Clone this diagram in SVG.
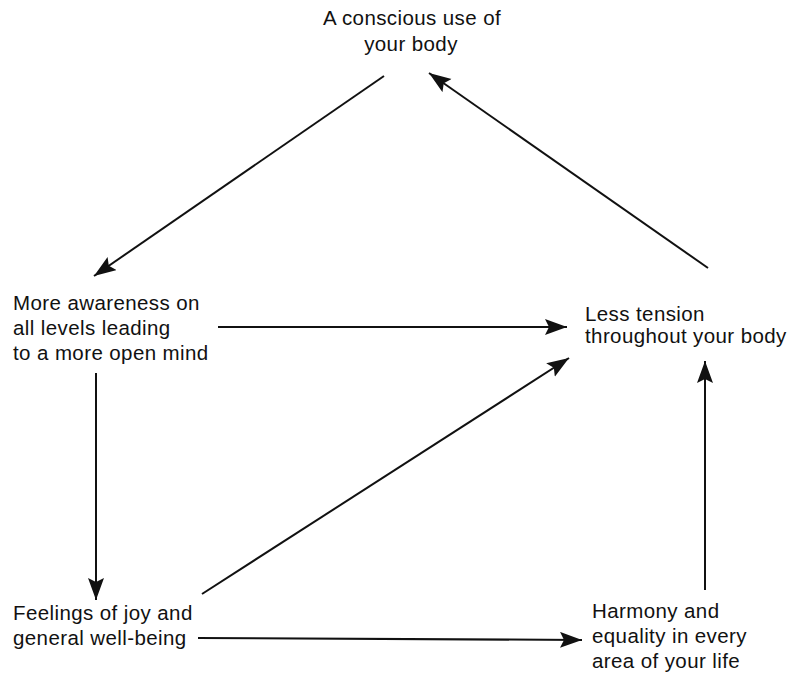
<svg xmlns="http://www.w3.org/2000/svg" width="797" height="678" viewBox="0 0 797 678">
<style>
text{font-family:"Liberation Sans",Arial,sans-serif;font-size:20.5px;letter-spacing:0.4px;fill:#111}
.c{stroke:#111;stroke-width:2;fill:none}
</style>
<defs>
<marker id="ah" markerUnits="userSpaceOnUse" markerWidth="26" markerHeight="18" refX="22" refY="8" orient="auto">
<path d="M0,0 L22,8 L0,16 L4,8 Z" fill="#111"/>
</marker>
</defs>
<rect width="797" height="678" fill="#fff"/>
<g id="n1"><text x="412" y="25" text-anchor="middle">A conscious use of</text><text x="411" y="51" text-anchor="middle">your body</text></g>
<g id="n2"><text x="13" y="310">More awareness on</text><text x="13" y="335">all levels leading</text><text x="13" y="360">to a more open mind</text></g>
<g id="n3"><text x="585" y="321">Less tension</text><text x="585" y="343">throughout your body</text></g>
<g id="n4"><text x="13" y="620">Feelings of joy and</text><text x="13" y="645">general well-being</text></g>
<g id="n5"><text x="592" y="618">Harmony and</text><text x="592" y="643">equality in every</text><text x="592" y="668">area of your life</text></g>
<g id="connectors">
<line class="c" x1="384" y1="76" x2="94" y2="276" marker-end="url(#ah)"/>
<line class="c" x1="708" y1="268" x2="429" y2="73" marker-end="url(#ah)"/>
<line class="c" x1="218" y1="327" x2="567" y2="327" marker-end="url(#ah)"/>
<line class="c" x1="96" y1="373" x2="96" y2="600" marker-end="url(#ah)"/>
<line class="c" x1="202" y1="594" x2="569" y2="358" marker-end="url(#ah)"/>
<line class="c" x1="198" y1="638" x2="582" y2="640" marker-end="url(#ah)"/>
<line class="c" x1="705" y1="590" x2="705" y2="361" marker-end="url(#ah)"/>
</g>
</svg>
